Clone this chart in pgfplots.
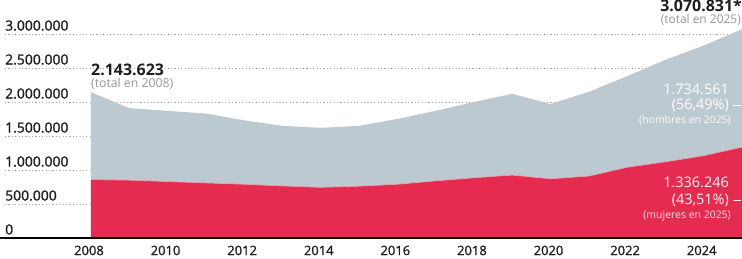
\documentclass[border=0pt]{standalone}
\usepackage{pgfplots}
\usepackage{pgfplotstable}
\pgfplotsset{compat=1.18}
\usepackage{fontspec}
\setmainfont{Open Sans}
\newfontfamily\semib{Open Sans}[FakeBold=1.2]
\definecolor{grayarea}{RGB}{189,201,209}
\definecolor{redarea}{RGB}{229,44,80}
\definecolor{ticktext}{RGB}{30,30,30}
\definecolor{anntext}{RGB}{150,150,150}
\definecolor{gridc}{RGB}{170,170,170}

\pgfplotstableread{
year total women
2008 2143623 860000
2009 1910000 850000
2010 1870000 830000
2011 1830000 810000
2012 1730000 790000
2013 1650000 765000
2014 1620000 745000
2015 1650000 762000
2016 1750000 790000
2017 1870000 840000
2018 2000000 885000
2019 2120000 925000
2020 1970000 870000
2021 2150000 910000
2022 2380000 1040000
2023 2620000 1120000
2024 2830000 1210000
2025 3070831 1336246
}\datatable

\begin{document}
\begin{tikzpicture}
\useasboundingbox (0,0) rectangle (742bp,259bp);
\begin{axis}[
  at={(5bp,21bp)}, anchor=south west,
  scale only axis, width=737bp, height=210.8bp,
  xmin=2005.755, xmax=2025, ymin=0, ymax=3100000,
  clip=false,
  scaled y ticks=false,
  axis line style={draw=none},
  tick style={draw=none},
  ymajorgrids,
  major grid style={gridc, line width=0.6pt, dash pattern=on 1.2pt off 2.2pt},
  ytick={0,500000,1000000,1500000,2000000,2500000,3000000},
  yticklabels={0,500.000,1.000.000,1.500.000,2.000.000,2.500.000,3.000.000},
  yticklabel style={anchor=base west, inner sep=0pt, xshift=0bp, yshift=3.5bp,
    font=\semib\fontsize{14}{14}\selectfont, text=ticktext},
  xtick={2008,2010,2012,2014,2016,2018,2020,2022,2024},
  xticklabels={2008,2010,2012,2014,2016,2018,2020,2022,2024},
  xticklabel style={anchor=north, inner sep=0pt, yshift=-7.5bp, xshift=-2bp,
    font=\semib\fontsize{13}{13}\selectfont, text=ticktext},
]
\addplot[fill=grayarea, draw=none] table[x=year,y=total]{\datatable} \closedcycle;
\addplot[fill=redarea, draw=none] table[x=year,y=women]{\datatable} \closedcycle;
\addplot[white!55!redarea, line width=0.6pt] table[x=year,y=women]{\datatable};
\draw[black, line width=1.1pt] ([xshift=-5bp]rel axis cs:0,0) -- (rel axis cs:1,0);
\end{axis}
% annotations (picture coordinates)
\node[anchor=base west, inner sep=0pt, font=\bfseries\fontsize{16}{16}\selectfont, text=ticktext] at (91bp,183bp) {2.143.623};
\node[anchor=base west, inner sep=0pt, font=\fontsize{12.3}{12.3}\selectfont, text=anntext] at (91bp,171bp) {(total en 2008)};
\node[anchor=base east, inner sep=0pt, font=\bfseries\fontsize{16}{16}\selectfont, text=ticktext] at (742bp,247bp) {3.070.831*};
\node[anchor=base east, inner sep=0pt, font=\fontsize{12}{12}\selectfont, text=anntext] at (741bp,235bp) {(total en 2025)};
\node[anchor=base east, inner sep=0pt, font=\fontsize{14.5}{14.5}\selectfont, text=white] at (729bp,164bp) {1.734.561};
\node[anchor=base east, inner sep=0pt, font=\fontsize{14.5}{14.5}\selectfont, text=white] at (729bp,149.5bp) {(56,49\%)};
\node[anchor=base east, inner sep=0pt, font=\fontsize{10.5}{10.5}\selectfont, text=white!92!grayarea] at (731bp,135bp) {(hombres en 2025)};
\draw[white, line width=0.8pt] (733bp,154bp) -- (741bp,154bp);
\node[anchor=base east, inner sep=0pt, font=\fontsize{14.5}{14.5}\selectfont, text=white!95!redarea] at (729bp,71bp) {1.336.246};
\node[anchor=base east, inner sep=0pt, font=\fontsize{14.5}{14.5}\selectfont, text=white!95!redarea] at (729bp,54.5bp) {(43,51\%)};
\node[anchor=base east, inner sep=0pt, font=\fontsize{10.5}{10.5}\selectfont, text=white!85!redarea] at (731bp,40bp) {(mujeres en 2025)};
\draw[white!95!redarea, line width=0.8pt] (733bp,59bp) -- (741bp,59bp);
\end{tikzpicture}
\end{document}
